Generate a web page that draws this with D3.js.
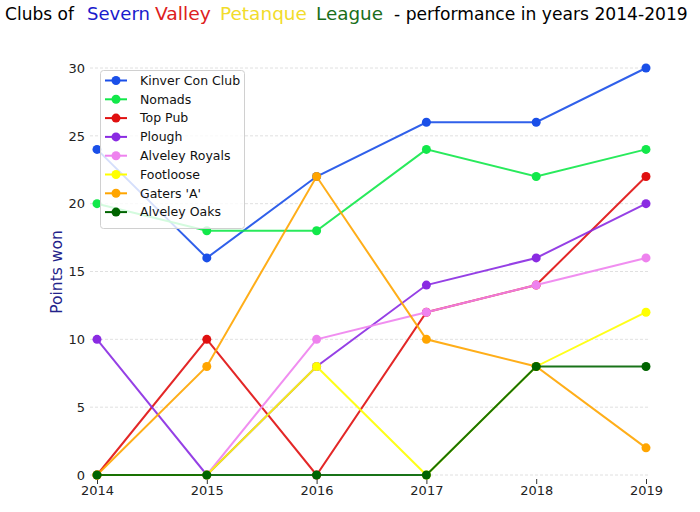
<!DOCTYPE html>
<html><head><meta charset="utf-8">
<script src="https://cdn.jsdelivr.net/npm/d3@7/dist/d3.min.js"></script>
<style>body{margin:0;background:#fff;} svg{display:block;font-family:"DejaVu Sans",sans-serif;}</style>
</head><body><svg id="c" width="700" height="512"></svg>
<script>
const years = [2014, 2015, 2016, 2017, 2018, 2019];
const yTicks = [0, 5, 10, 15, 20, 25, 30];
const clubs = ["Kinver Con Club", "Nomads", "Top Pub", "Plough", "Alveley Royals", "Footloose", "Gaters 'A'", "Alveley Oaks"];
const colors = ["#1a4fe8", "#12e84a", "#e01010", "#8a2be2", "#ee82ee", "#ffff00", "#ffa500", "#006400"];
const kinver = [24, 16, 22, 26, 26, 30];
const nomads = [20, 18, 18, 24, 22, 24];
const topPub = [0, 10, 0, 12, 14, 22];
const plough = [10, 0, 8, 14, 16, 20];
const royals = [0, 0, 10, 12, 14, 16];
const footloose = [0, 0, 8, 0, 8, 12];
const gaters = [0, 8, 22, 10, 8, 2];
const oaks = [0, 0, 0, 0, 8, 8];
const series = [kinver, nomads, topPub, plough, royals, footloose, gaters, oaks];
const titleWords = ["Clubs of", "Severn", "Valley", "Petanque", "League", "- performance in years 2014-2019"];
const titleColors = ["#000", "#1a1acc", "#dd2020", "#f2dc2a", "#1a6e1a", "#000"];
const titleSpans = [[5, 74], [87, 150], [155, 211], [220, 307], [316, 383], [394, 688]];

const svg = d3.select("#c");
const x = d3.scaleLinear().domain([2014, 2019]).range([97, 646]);
const y = d3.scaleLinear().domain([0, 30]).range([475, 68]);

// grid
svg.append("g").selectAll("line").data(yTicks).join("line")
  .attr("x1", 90).attr("x2", 650).attr("y1", d => y(d)).attr("y2", d => y(d))
  .attr("stroke", "#d8d8d8").attr("stroke-width", 0.8).attr("stroke-dasharray", "3,2");

// y axis
const ya = svg.append("g").attr("transform", "translate(90,0)")
  .call(d3.axisLeft(y).tickValues(yTicks).tickSize(0).tickPadding(5));
ya.select(".domain").remove();
ya.selectAll("text").attr("font-size", 13).attr("fill", "#222").attr("font-family", "DejaVu Sans");

// x axis
const xa = svg.append("g").attr("transform", "translate(0,479)")
  .call(d3.axisBottom(x).tickValues(years).tickFormat(d3.format("d")).tickSize(5).tickPadding(2));
xa.select(".domain").remove();
xa.selectAll("line").attr("stroke", "#333");
xa.selectAll("text").attr("font-size", 13).attr("fill", "#222").attr("font-family", "DejaVu Sans");

// lines
const line = d3.line().x((d, i) => x(years[i])).y(d => y(d));
series.forEach((s, k) => {
  const g = svg.append("g");
  g.append("path").datum(s).attr("d", line).attr("fill", "none")
    .attr("stroke", colors[k]).attr("stroke-width", 2).attr("stroke-opacity", 0.9);
  g.selectAll("circle").data(s).join("circle")
    .attr("cx", (d, i) => x(years[i])).attr("cy", d => y(d)).attr("r", 4.5).attr("fill", colors[k]);
});

// legend
const lg = svg.append("g");
lg.append("rect").attr("x", 100.5).attr("y", 70.5).attr("width", 144).attr("height", 158).attr("rx", 3)
  .attr("fill", "#fff").attr("fill-opacity", 0.8).attr("stroke", "#d0d0d0");
clubs.forEach((c, i) => {
  const yy = 80.5 + i * 18.8;
  lg.append("line").attr("x1", 105).attr("x2", 127).attr("y1", yy).attr("y2", yy)
    .attr("stroke", colors[i]).attr("stroke-width", 2);
  lg.append("circle").attr("cx", 116).attr("cy", yy).attr("r", 4.5).attr("fill", colors[i]);
  lg.append("text").attr("x", 140).attr("y", yy + 4.3).attr("font-size", 12.5).attr("fill", "#111").text(c);
});

// y label
svg.append("text").attr("transform", "translate(62,272) rotate(-90)").attr("text-anchor", "middle")
  .attr("font-size", 15.5).attr("fill", "#22228a").text("Points won");

// title: each word horizontally scaled to its span
titleWords.forEach((w, i) => {
  const tx = svg.append("text").attr("x", 0).attr("y", 0).attr("font-size", 18)
    .attr("fill", titleColors[i]).text(w);
  const nat = tx.node().getComputedTextLength();
  const sx = (titleSpans[i][1] - titleSpans[i][0]) / nat;
  tx.attr("transform", `translate(${titleSpans[i][0]},20) scale(${sx},1)`);
});
</script></body></html>
